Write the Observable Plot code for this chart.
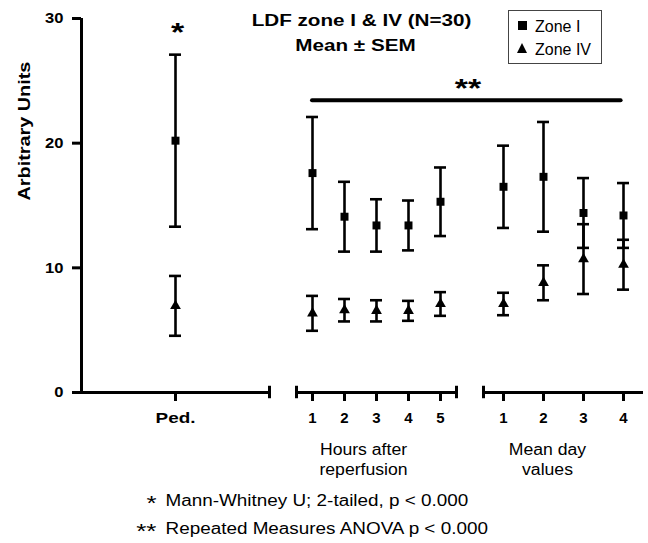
<!DOCTYPE html>
<html><head><meta charset="utf-8">
<script src="https://cdn.jsdelivr.net/npm/d3@7"></script>
<script src="https://cdn.jsdelivr.net/npm/@observablehq/plot@0.6"></script>
<style>
html,body{margin:0;padding:0;background:#fff;}
#chart{position:relative;width:648px;height:543px;font-family:"Liberation Sans",Arial,sans-serif;}
#legend{position:absolute;left:508px;top:10px;width:94px;height:54px;border:1.5px solid #444;box-sizing:border-box;background:#fff;}
#legend .sq{position:absolute;left:9px;top:9.5px;width:9px;height:9px;background:#000;}
#legend .tri{position:absolute;left:8px;top:31.5px;width:0;height:0;border-left:5.5px solid transparent;border-right:5.5px solid transparent;border-bottom:10px solid #000;}
#legend .lab{position:absolute;left:26px;font-size:16px;line-height:16px;color:#000;white-space:nowrap;}
</style></head>
<body>
<div id="chart"></div>
<script>
// ---- data ----
const categories = ["Ped.","1","2","3","4","5","1","2","3","4"];
const groups     = ["ped","hours","hours","hours","hours","hours","days","days","days","days"];
const zoneIMean  = [20.2, 17.6, 14.1, 13.4, 13.4, 15.3, 16.5, 17.3, 14.4, 14.2];
const zoneISEM   = [6.9,  4.5,  2.8,  2.1,  2.0,  2.75, 3.3,  4.4,  2.8,  2.6];
const zoneIVMean = [6.95, 6.35, 6.6,  6.55, 6.55, 7.1,  7.1,  8.8,  10.7, 10.25];
const zoneIVSEM  = [2.4,  1.4,  0.9,  0.85, 0.8,  0.95, 0.9,  1.4,  2.8,  2.0];
const yTicks = [0, 10, 20, 30];
const seriesNames = ["Zone I", "Zone IV"];
const titleLines = ["LDF zone I & IV (N=30)", "Mean \u00b1 SEM"];
const hoursLabel = ["Hours after", "reperfusion"];
const daysLabel = ["Mean day", "values"];
const footStars = ["*", "**"];
const footTexts = ["Mann-Whitney U; 2-tailed, p < 0.000", "Repeated Measures ANOVA p < 0.000"];
const yLabel = "Arbitrary Units";
const anovaLevel = [23.45];   // level of the ** bar
const pedStarLevel = [28.2];  // level of the * over Ped.

// ---- layout (x in abstract units) ----
const FONT = '"Liberation Sans", Arial, Helvetica, sans-serif';
const groupStart = {ped: 11.75, hours: 28.875, days: 52.75};
const groupStep = {ped: 0, hours: 4, days: 5};
const counters = {ped: 0, hours: 0, days: 0};
const xs = groups.map(g => groupStart[g] + groupStep[g] * (counters[g]++));
const rows = categories.map((c, i) => ({x: xs[i], label: c, m1: zoneIMean[i], s1: zoneISEM[i], m4: zoneIVMean[i], s4: zoneIVSEM[i]}));
const hx = rows.filter((r, i) => groups[i] === "hours").map(r => r.x);
const dxs = rows.filter((r, i) => groups[i] === "days").map(r => r.x);
const pedX = xs[0];
const segments = [
  {a: pedX - 11.75, b: pedX + 11.75},
  {a: hx[0] - 2, b: hx[hx.length - 1] + 2},
  {a: dxs[0] - 2.5, b: dxs[dxs.length - 1] + 2.5}
];
const segEnds = [segments[0].b, segments[1].a, segments[1].b, segments[2].a];
const bars = rows.flatMap(r => [{x: r.x, lo: r.m1 - r.s1, hi: r.m1 + r.s1}, {x: r.x, lo: r.m4 - r.s4, hi: r.m4 + r.s4}]);
const caps = bars.flatMap(b => [{x: b.x, y: b.lo}, {x: b.x, y: b.hi}]);
const labelAt = new Map(rows.map(r => [r.x, r.label]));
const hoursC = (hx[0] + hx[hx.length - 1]) / 2;
const daysC = (dxs[0] + dxs[dxs.length - 1]) / 2;

const plot = Plot.plot({
  width: 648, height: 543,
  marginLeft: 81, marginRight: 5, marginTop: 18, marginBottom: 151,
  style: {background: "transparent", fontFamily: FONT, color: "#000", overflow: "visible"},
  x: {domain: [0, 70.25], axis: null},
  y: {domain: [0, 30], axis: null},
  marks: [
    Plot.ruleY(segments, {y: 0, x1: "a", x2: "b", strokeWidth: 3}),
    Plot.ruleX(segEnds, {x: d => d, y1: -0.5, y2: 0.5, strokeWidth: 3}),
    Plot.ruleX([0], {y1: 0, y2: 30, strokeWidth: 3}),
    Plot.axisY({ticks: yTicks, tickSize: 9, tickPadding: 9, strokeWidth: 3, fontSize: 15, fontWeight: "bold", label: null}),
    Plot.axisX({ticks: xs, tickFormat: d => labelAt.get(d), tickSize: 9, tickPadding: 11, strokeWidth: 3, fontSize: 15, fontWeight: "bold", label: null}),
    Plot.text([yLabel], {frameAnchor: "left", rotate: -90, dx: -57, dy: -5, fontSize: 16, fontWeight: "bold"}),
    Plot.ruleX(bars, {x: "x", y1: "lo", y2: "hi", strokeWidth: 2.6}),
    Plot.ruleY(caps, {y: "y", x1: d => d.x - 0.75, x2: d => d.x + 0.75, strokeWidth: 2.6}),
    Plot.dot(rows, {x: "x", y: "m1", symbol: "square", r: 4.5, fill: "#000"}),
    Plot.dot(rows, {x: "x", y: "m4", symbol: "triangle", r: 4, fill: "#000"}),
    Plot.ruleY(anovaLevel, {y: d => d, x1: hx[0], x2: dxs[dxs.length - 1] - 0.3, strokeWidth: 4, strokeLinecap: "round"}),
    Plot.text(anovaLevel, {x: (hx[0] + dxs[dxs.length - 1]) / 2, y: d => d, text: () => footStars[1], dy: -3, lineAnchor: "bottom", fontSize: 26, fontWeight: "bold"}),
    Plot.text(pedStarLevel, {x: pedX, y: d => d, text: () => footStars[0], dx: 2, dy: 0, lineAnchor: "bottom", fontSize: 26, fontWeight: "bold"}),
    Plot.text([titleLines[0]], {frameAnchor: "top", dx: -1, dy: 7, lineAnchor: "bottom", fontSize: 16, fontWeight: "bold"}),
    Plot.text([titleLines[1]], {frameAnchor: "top", dx: -7, dy: 32, lineAnchor: "bottom", fontSize: 16, fontWeight: "bold"}),
    Plot.text([hoursLabel[0]], {x: hoursC, frameAnchor: "bottom", dx: -13, dy: 62, lineAnchor: "bottom", fontSize: 16}),
    Plot.text([hoursLabel[1]], {x: hoursC, frameAnchor: "bottom", dx: -13, dy: 82, lineAnchor: "bottom", fontSize: 16}),
    Plot.text([daysLabel[0]], {x: daysC, frameAnchor: "bottom", dx: -16, dy: 62, lineAnchor: "bottom", fontSize: 16}),
    Plot.text([daysLabel[1]], {x: daysC, frameAnchor: "bottom", dx: -16, dy: 82, lineAnchor: "bottom", fontSize: 16}),
    Plot.text([footStars[0]], {frameAnchor: "bottom-left", dx: 75, dy: 117, textAnchor: "end", lineAnchor: "bottom", fontSize: 20}),
    Plot.text([footStars[1]], {frameAnchor: "bottom-left", dx: 75, dy: 145, textAnchor: "end", lineAnchor: "bottom", fontSize: 20}),
    Plot.text([footTexts[0]], {frameAnchor: "bottom-left", dx: 84, dy: 113, textAnchor: "start", lineAnchor: "bottom", fontSize: 16}),
    Plot.text([footTexts[1]], {frameAnchor: "bottom-left", dx: 84, dy: 141, textAnchor: "start", lineAnchor: "bottom", fontSize: 16})
  ]
});

const chart = document.getElementById("chart");
chart.appendChild(plot);

// horizontal stretch of texts (the reference's lettering is wider than Arial)
const stretch = new Map([
  [titleLines[0], 1.29], [titleLines[1], 1.29],
  [footTexts[0], 1.18], [footTexts[1], 1.18],
  [hoursLabel[0], 1.1], [hoursLabel[1], 1.1], [daysLabel[0], 1.1], [daysLabel[1], 1.1],
  ["Ped.", 1.26], [yLabel, 1.24],
  ["0", 1.1], ["10", 1.1], ["20", 1.1], ["30", 1.1],
  ["*", 1.3], ["**", 1.3]
]);
plot.querySelectorAll("text").forEach(t => {
  if (t.querySelector("tspan")) return;
  const f = stretch.get(t.textContent);
  if (!f) return;
  const L = t.getComputedTextLength();
  t.setAttribute("textLength", (L * f).toFixed(1));
  t.setAttribute("lengthAdjust", "spacingAndGlyphs");
});

// legend
const legend = document.createElement("div");
legend.id = "legend";
legend.innerHTML = `<div class="sq"></div><div class="lab" style="top:8px">${seriesNames[0]}</div>` +
  `<div class="tri"></div><div class="lab" style="top:31px">${seriesNames[1]}</div>`;
chart.appendChild(legend);
</script>
</body></html>
